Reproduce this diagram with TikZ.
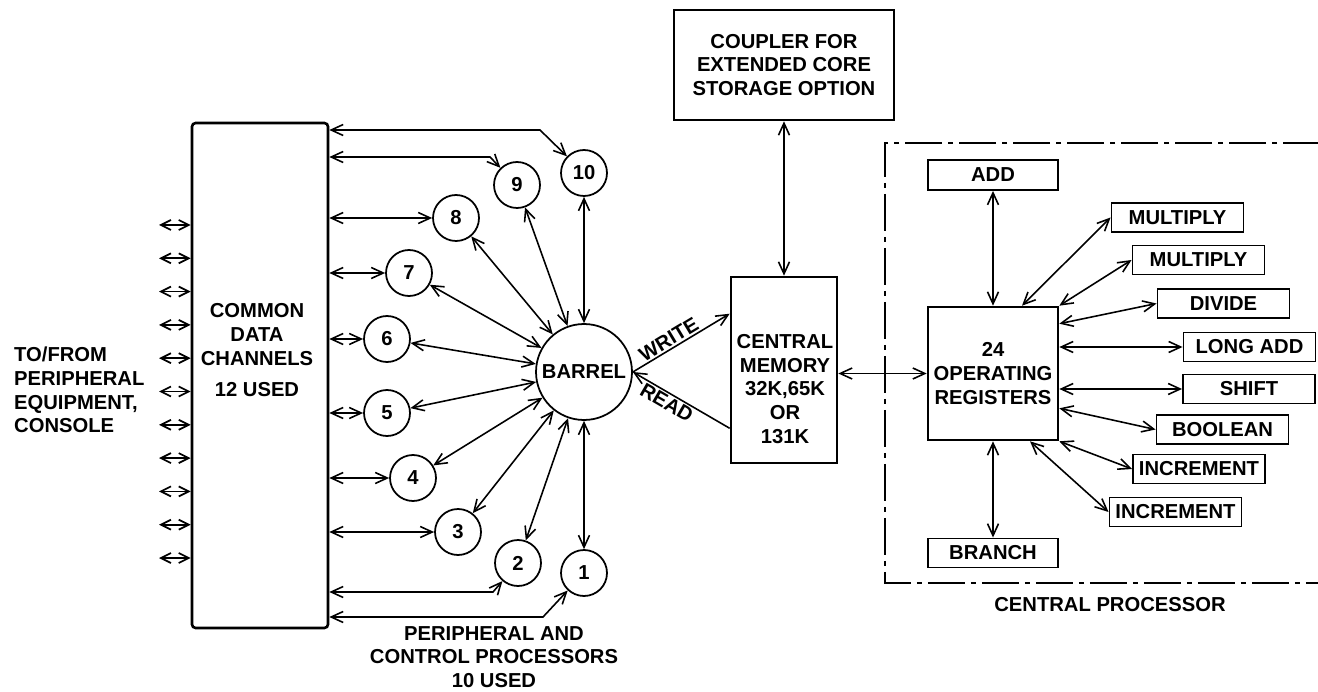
\documentclass[tikz,border=0pt]{standalone}
\usepackage{fontspec}
\setmainfont{Liberation Sans}
\usetikzlibrary{arrows.meta,calc}

\begin{document}
\begin{tikzpicture}[
    x=0.02cm, y=-0.02cm,
    font=\fontsize{11.5}{13.5}\selectfont\bfseries,
    >={Straight Barb[length=2.4mm,width=2.2mm]},
    block/.style={rectangle, draw, line width=1.5pt, align=center, inner sep=0pt},
    unit/.style={rectangle, draw, line width=1.1pt, minimum width=2.64cm,
                 minimum height=0.58cm, inner sep=0pt},
    proc/.style={circle, draw, line width=1pt, minimum size=0.92cm, inner sep=0pt},
    link/.style={<->, line width=0.9pt},
    stub/.style={<->, line width=1pt, >={Straight Barb[length=2mm,width=2mm]}},
    cpuframe/.style={line width=1.1pt, dash pattern=on 0.74cm off 0.12cm on 0.1cm off 0.12cm},
    lbl/.style={align=center},
]
    \useasboundingbox (0,0) rectangle (1318,692);

    % Common data channels
    \node[block, minimum width=2.72cm, minimum height=10.1cm, rounded corners=2pt] (cdc) at (260,375.5) {};
    \node[lbl] (cdctext) at (257,350) {COMMON\\DATA\\CHANNELS\\[4pt]12 USED};
    \foreach \i in {0,...,10} {
        \coordinate (s\i) at (159,{225+33.3*\i});
        \draw[stub] (s\i) -- (s\i -| cdc.west);
    }
    \node[lbl, align=left, anchor=west] (tofrom) at (8,390) {TO/FROM\\PERIPHERAL\\EQUIPMENT,\\CONSOLE};

    % Peripheral and control processors
    \foreach \n/\x/\y in {1/584/573, 2/518/563, 3/458/532, 4/413/478, 5/387/413,
                          6/387/339, 7/409/273, 8/456/218, 9/517/185, 10/584/173}
        \node[proc] (p\n) at (\x,\y) {\n};
    \node[proc, minimum size=1.92cm] (barrel) at (584,372) {BARREL};

    \foreach \n in {3,...,8}
        \draw[link] (p\n -| cdc.east) -- (p\n);
    \coordinate (k10) at (540,130);
    \coordinate (k9) at (490,157);
    \coordinate (k2) at (493,592);
    \coordinate (k1) at (543,617);
    \foreach \n in {1,2,9,10}
        \draw[link] (k\n -| cdc.east) -- (k\n) -- (p\n);
    \foreach \n in {1,...,10}
        \draw[link] (p\n) -- (barrel);

    \node[lbl] (pcp) at (494,657) {PERIPHERAL AND\\CONTROL PROCESSORS\\10 USED};

    % Memory and coupler
    \node[block, minimum width=2.12cm, minimum height=3.72cm] (mem) at (784,370) {};
    \node[lbl] (memtext) at (785,389) {CENTRAL\\MEMORY\\32K,65K\\OR\\131K};
    \draw[->, line width=0.9pt] (barrel.east) -- ($(mem.north west)+(0,38)$)
        node[pos=0.42, sloped, above, inner sep=1pt] {WRITE};
    \draw[->, line width=0.9pt] ($(mem.south west)+(0,-36)$) -- (barrel.east)
        node[pos=0.6, sloped, below, inner sep=1pt] {READ};

    \node[block, minimum width=4.4cm, minimum height=2.2cm] (coupler) at (784,65)
        {COUPLER FOR\\EXTENDED CORE\\STORAGE OPTION};
    \draw[link] (coupler) -- (mem);

    % Central processor
    \node[block, minimum width=2.6cm, minimum height=2.66cm] (reg) at (993,373.5)
        {24\\OPERATING\\REGISTERS};
    \draw[link] (mem.east |- reg.west) -- (reg.west);

    \node[unit, minimum width=2.6cm, minimum height=0.6cm] (add) at (993,175) {ADD};
    \node[unit, minimum width=2.6cm] (branch) at (993,553) {BRANCH};
    \node[unit] (mul1) at (1177.5,217.5) {MULTIPLY};
    \node[unit] (mul2) at (1198.5,260) {MULTIPLY};
    \node[unit] (div) at (1223.5,303.5) {DIVIDE};
    \node[unit] (ladd) at (1249.5,347) {LONG ADD};
    \node[unit] (shift) at (1249,389) {SHIFT};
    \node[unit] (bool) at (1222.5,429.5) {BOOLEAN};
    \node[unit] (inc1) at (1199,469) {INCREMENT};
    \node[unit] (inc2) at (1175.5,512) {INCREMENT};

    \draw[link] (add) -- (reg);
    \draw[link] (reg) -- (branch);
    \draw[link] ($(reg.north)+(29,0)$) -- (mul1.west);
    \draw[link] (reg.north east) -- (mul2.west);
    \draw[link] ($(reg.north east)+(0,18)$) -- (div.west);
    \draw[link] (reg.east |- ladd) -- (ladd);
    \draw[link] (reg.east |- shift) -- (shift);
    \draw[link] ($(reg.south east)+(0,-33)$) -- (bool.west);
    \draw[link] (reg.south east) -- (inc1.west);
    \draw[link] ($(reg.south)+(37,0)$) -- (inc2.west);

    \draw[cpuframe] (1320,143) -- (885,143) -- (885,583) -- (1320,583);
    \node (cplabel) at (1110,605) {CENTRAL PROCESSOR};
\end{tikzpicture}
\end{document}
